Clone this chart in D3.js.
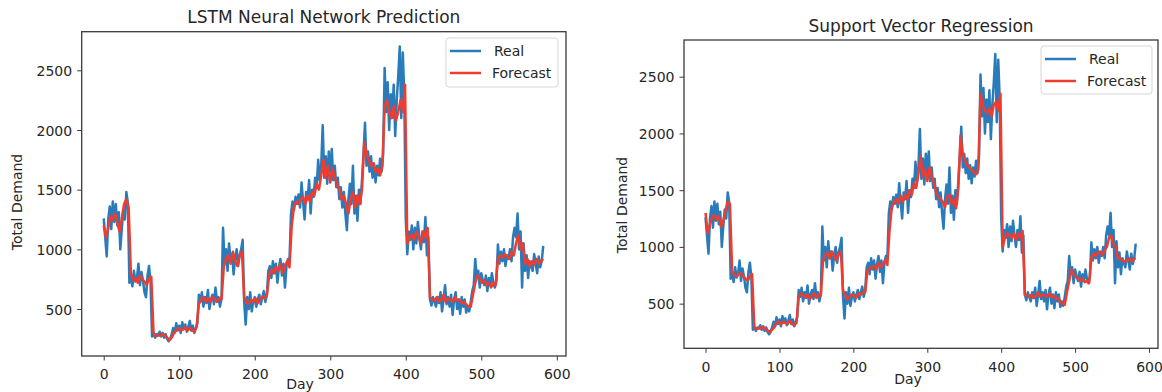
<!DOCTYPE html>
<html><head><meta charset="utf-8">
<script src="https://cdn.jsdelivr.net/npm/d3@7"></script>
<style>
body{margin:0;background:#fff}
svg{display:block}
text{font-family:"DejaVu Sans",sans-serif;fill:#262626}
</style>
</head><body>
<svg id="c" width="1162" height="392"></svg>
<script>
// ---------------- DATA ----------------
const nDays = 584;           // days 0..583
const realStep = 2;          // real values read every 2 days
const forecastStep = 3;      // forecast values read every 3 days

const realDemand = [
 1260,1100,940,1250,1360,1170,1400,1230,1380,1200,1310,1000,1180,1330,1250,1480,1390,720,
 780,690,820,730,760,880,700,810,740,640,600,780,860,730,
 270,300,260,290,280,310,270,300,260,290,250,230,250,
 290,340,300,380,320,360,300,390,330,370,310,350,400,320,360,300,340,380,
 620,560,640,520,600,550,660,500,580,620,540,680,560,600,520,590,
 1180,880,1000,820,1050,900,960,790,930,1000,860,950,1000,1080,
 560,370,600,500,640,480,560,600,520,580,620,540,600,650,560,620,
 820,860,760,900,800,880,720,850,920,780,880,680,860,920,900,1300,
 1400,1330,1440,1380,1460,1350,1560,1400,1250,1480,1420,1580,1300,1500,1440,1600,1520,1750,1580,1700,
 2040,1600,1780,1550,1820,1650,1840,1580,1700,1520,
 1600,1420,1520,1350,1480,1300,1160,1420,1550,1380,1700,1300,1450,1240,1500,1380,1580,
 1800,2060,1700,1820,1650,1780,1600,1720,1560,1700,1620,1760,1650,1800,
 2520,2150,2400,2000,2300,2100,2380,1950,2250,2450,2700,2100,2650,2300,
 1250,960,1150,1080,1200,1000,1180,1050,1230,1100,1000,1150,1060,1270,950,1100,
 580,530,600,560,520,600,550,640,480,580,700,540,600,520,620,450,580,640,500,580,460,600,520,580,470,520,480,560,
 650,700,920,760,820,680,800,740,700,780,650,760,700,800,720,680,740,
 1040,880,980,900,1000,860,950,920,1000,900,1100,1180,1100,
 1300,1000,1150,680,1050,820,950,760,900,860,820,960,880,800,940,850,900,1030
];

const lstmForecast = [
 1200,1100,1180,1280,1250,1300,1220,1150,1260,1380,1420,1350,
 800,740,760,720,780,750,730,700,760,770,
 300,270,280,275,290,280,260,240,
 260,300,320,340,320,330,350,320,340,320,310,350,540,
 580,600,560,590,560,600,580,560,590,580,
 850,920,950,880,980,900,860,950,980,600,
 560,540,580,560,590,550,580,600,590,610,
 780,830,800,850,820,880,800,860,900,850,1200,
 1360,1400,1380,1420,1440,1380,1450,1400,1480,1450,1550,1500,1620,
 1750,1600,1700,1560,1680,1600,1550,
 1500,1420,1450,1380,1300,1420,1480,1350,1450,1380,1500,
 1900,1800,1750,1700,1720,1650,1680,1620,1700,
 2200,2250,2150,2100,2200,2080,2150,2250,2150,2380,
 1050,1100,1120,1080,1150,1100,1050,1150,1100,1180,
 600,580,570,600,560,580,620,560,590,580,560,600,570,580,550,560,540,520,520,
 620,720,780,760,720,740,700,720,680,720,700,
 920,950,930,960,940,920,980,950,1050,
 1120,1000,1050,880,920,860,900,870,920,880,900,920
];

const svrForecast = [
 1300,1120,1200,1260,1280,1240,1270,1180,1230,1320,1400,1380,
 780,750,740,760,770,740,720,700,740,760,
 290,275,285,280,295,280,265,250,
 270,290,330,340,320,340,330,320,350,320,310,330,560,
 590,570,560,580,540,570,590,550,580,570,
 880,930,950,900,960,920,880,940,960,620,
 570,540,560,580,570,550,590,580,600,600,
 790,810,820,830,800,860,820,850,880,840,1150,
 1350,1400,1420,1380,1450,1400,1460,1420,1500,1460,1560,1520,1640,
 1800,1620,1680,1580,1700,1620,1560,
 1480,1440,1420,1400,1350,1440,1460,1380,1420,1340,1520,
 1980,1820,1760,1720,1700,1680,1660,1640,1680,
 2350,2250,2200,2180,2220,2150,2250,2280,2200,2350,
 1000,1080,1120,1100,1080,1120,1060,1120,1080,1140,
 580,570,560,580,550,570,600,560,580,570,560,590,560,570,540,550,520,500,490,
 600,700,800,760,740,720,700,720,690,700,680,
 900,940,920,950,960,930,970,1000,1080,
 1100,1020,1000,900,900,880,870,880,900,870,890,900
];

const xTicks = [0, 100, 200, 300, 400, 500, 600];
const yTicks = [500, 1000, 1500, 2000, 2500];
const seriesNames = ["Real", "Forecast"];
const panelTitles = ["LSTM Neural Network Prediction", "Support Vector Regression"];
const xLabelText = "Day";
const yLabelText = "Total Demand";

// ---------------- LAYOUT / STYLE ----------------
const colReal = "#2a7bba";
const colForecast = "#f03c2e";
const axisColor = "#3a3a3a";

const panels = [
  {title: panelTitles[0], forecast: lstmForecast,
   box: {l: 81.7, r: 566, t: 31.7, b: 356},
   titleY: 23, tickLabelY: 379, xLabelX: 300, xLabelY: 389, yLabelX: 17, yLabelY: 202,
   legend: {x: 446, y: 38, w: 112, h: 49}},
  {title: panelTitles[1], forecast: svrForecast,
   box: {l: 684, r: 1158, t: 40, b: 348.3},
   titleY: 32, tickLabelY: 372, xLabelX: 908, xLabelY: 384, yLabelX: 622, yLabelY: 205,
   legend: {x: 1041, y: 46, w: 111, h: 48}}
];

const realPts = realDemand.map((v, i) => ({d: i * realStep, v}));

const allVals = realDemand.concat(lstmForecast, svrForecast);
const [vMin, vMax] = d3.extent(allVals);
const vPad = 0.05 * (vMax - vMin);
const xPad = 0.05 * (nDays - 1);

const svg = d3.select("#c");

panels.forEach(p => {
  const g = svg.append("g");
  const x = d3.scaleLinear().domain([-xPad, nDays - 1 + xPad]).range([p.box.l, p.box.r]);
  const y = d3.scaleLinear().domain([vMin - vPad, vMax + vPad]).range([p.box.b, p.box.t]);

  const line = d3.line().x(d => x(d.d)).y(d => y(d.v));
  const fcPts = p.forecast.map((v, i) => ({d: i * forecastStep, v}));

  g.append("path").datum(realPts).attr("d", line)
    .attr("fill", "none").attr("stroke", colReal).attr("stroke-width", 2.5).attr("stroke-linejoin", "round");
  g.append("path").datum(fcPts).attr("d", line)
    .attr("fill", "none").attr("stroke", colForecast).attr("stroke-width", 2.5).attr("stroke-linejoin", "round");

  // axes
  const xAxis = d3.axisBottom(x).tickValues(xTicks).tickSize(4.5).tickPadding(0).tickFormat(d3.format("d"));
  const yAxis = d3.axisLeft(y).tickValues(yTicks).tickSize(4.5).tickPadding(5).tickFormat(d3.format("d"));
  const gx = g.append("g").attr("transform", `translate(0,${p.box.b})`).call(xAxis);
  const gy = g.append("g").attr("transform", `translate(${p.box.l},0)`).call(yAxis);
  [gx, gy].forEach(a => {
    a.select(".domain").remove();
    a.selectAll(".tick line").attr("stroke", axisColor).attr("stroke-width", 1);
    a.selectAll(".tick text").attr("font-family", "DejaVu Sans").attr("font-size", 14).attr("fill", "#262626");
  });
  gx.selectAll(".tick text").attr("dy", null).attr("y", p.tickLabelY - p.box.b);
  gy.selectAll(".tick text").attr("dy", "0.36em");

  // frame
  g.append("rect").attr("x", p.box.l).attr("y", p.box.t)
    .attr("width", p.box.r - p.box.l).attr("height", p.box.b - p.box.t)
    .attr("fill", "none").attr("stroke", axisColor).attr("stroke-width", 1.3);

  // title
  g.append("text").attr("x", (p.box.l + p.box.r) / 2).attr("y", p.titleY)
    .attr("text-anchor", "middle").attr("font-size", 17).text(p.title);
  // axis labels
  g.append("text").attr("x", p.xLabelX).attr("y", p.xLabelY)
    .attr("text-anchor", "middle").attr("font-size", 14).text(xLabelText);
  g.append("text").attr("transform", `translate(${p.yLabelX},${p.yLabelY}) rotate(-90)`)
    .attr("text-anchor", "middle").attr("dominant-baseline", "central").attr("font-size", 14).text(yLabelText);

  // legend
  const L = p.legend;
  const lg = g.append("g").attr("transform", `translate(${L.x},${L.y})`);
  lg.append("rect").attr("width", L.w).attr("height", L.h).attr("rx", 3)
    .attr("fill", "#fff").attr("fill-opacity", 0.85).attr("stroke", "#d6d6d6").attr("stroke-width", 1);
  [colReal, colForecast].forEach((c, i) => {
    const yy = 13 + i * 22;
    lg.append("line").attr("x1", 4).attr("x2", 35).attr("y1", yy).attr("y2", yy)
      .attr("stroke", c).attr("stroke-width", 2.5);
    lg.append("text").attr("x", i === 0 ? 48 : 46).attr("y", yy).attr("dy", "0.36em")
      .attr("font-size", 14).text(seriesNames[i]);
  });
});
</script>
</body></html>
